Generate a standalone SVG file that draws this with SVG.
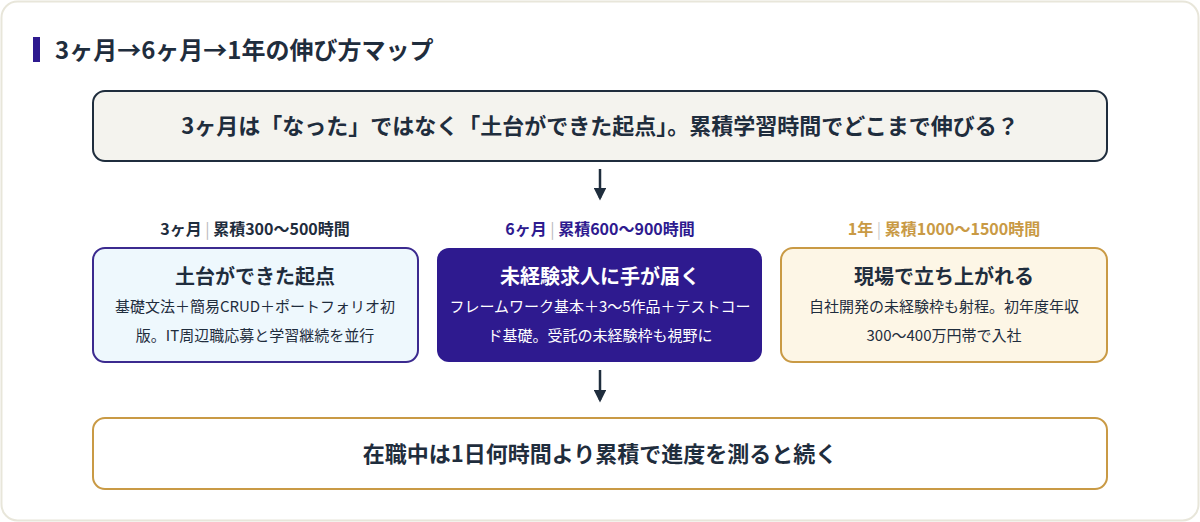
<svg xmlns="http://www.w3.org/2000/svg" width="1200" height="522" viewBox="0 0 1200 522">
<defs>
<style>
text{font-family:"Noto Sans CJK JP","Noto Sans",sans-serif;fill:#1f2d3d;text-anchor:middle}
.b{font-weight:700}
.cv{stroke:#1f2d3d;stroke-width:2.5;fill:none}
</style>
<marker id="ah" viewBox="0 0 10 10" refX="8" refY="5" markerWidth="5" markerHeight="5" orient="auto"><path d="M0,0L10,5L0,10z" fill="#1f2d3d"/></marker>
</defs>
<rect x="1.5" y="1.5" width="1197" height="519" rx="16" fill="#fff" stroke="#e8e6da" stroke-width="2"/>
<rect x="33" y="37" width="7" height="25" fill="#2e1a8f"/>
<text x="55" y="59" class="b" font-size="24" style="text-anchor:start">3ヶ月→6ヶ月→1年の伸び方マップ</text>
<g id="top"><rect x="93" y="91" width="1014" height="70" rx="12" fill="#f4f3ee" stroke="#1f2d3d" stroke-width="2"/>
<text x="600" y="134" class="b" font-size="22">3ヶ月は「なった」ではなく「土台ができた起点」。累積学習時間でどこまで伸びる？</text></g>
<g id="connectors">
<line x1="600" y1="169" x2="600" y2="198" class="cv" marker-end="url(#ah)"/>
<line x1="600" y1="370" x2="600" y2="400" class="cv" marker-end="url(#ah)"/>
</g>
<g id="n1"><text x="255" y="235" class="b" font-size="16">3ヶ月<tspan fill="#bbb" font-weight="400"> | </tspan>累積300〜500時間</text>
<rect x="93" y="248" width="325" height="114" rx="12" fill="#eef8fd" stroke="#3b2a8f" stroke-width="2"/>
<text x="255" y="284" class="b" font-size="20">土台ができた起点</text>
<text x="255" y="312" font-size="15">基礎文法＋簡易CRUD＋ポートフォリオ初</text>
<text x="255" y="341" font-size="15">版。IT周辺職応募と学習継続を並行</text></g>
<g id="n2"><text x="600" y="235" class="b" font-size="16" style="fill:#2e1a8f">6ヶ月<tspan font-weight="400" style="fill:#bbb"> | </tspan>累積600〜900時間</text>
<rect x="437" y="248" width="325" height="114" rx="12" fill="#2e1a8f"/>
<text x="600" y="284" class="b" font-size="20" style="fill:#fff">未経験求人に手が届く</text>
<text x="600" y="312" font-size="15" style="fill:#fff">フレームワーク基本＋3〜5作品＋テストコー</text>
<text x="600" y="341" font-size="15" style="fill:#fff">ド基礎。受託の未経験枠も視野に</text></g>
<g id="n3"><text x="944" y="235" class="b" font-size="16" style="fill:#c99a45">1年<tspan style="fill:#ccc" font-weight="400"> | </tspan>累積1000〜1500時間</text>
<rect x="781" y="248" width="326" height="114" rx="12" fill="#fdf6e6" stroke="#c99a45" stroke-width="2"/>
<text x="944" y="284" class="b" font-size="20">現場で立ち上がれる</text>
<text x="944" y="312" font-size="15">自社開発の未経験枠も射程。初年度年収</text>
<text x="944" y="341" font-size="15">300〜400万円帯で入社</text></g>
<g id="bottom"><rect x="93" y="418" width="1014" height="71" rx="12" fill="#fff" stroke="#c99a45" stroke-width="2"/>
<text x="600" y="462" class="b" font-size="22">在職中は1日何時間より累積で進度を測ると続く</text></g>
</svg>
